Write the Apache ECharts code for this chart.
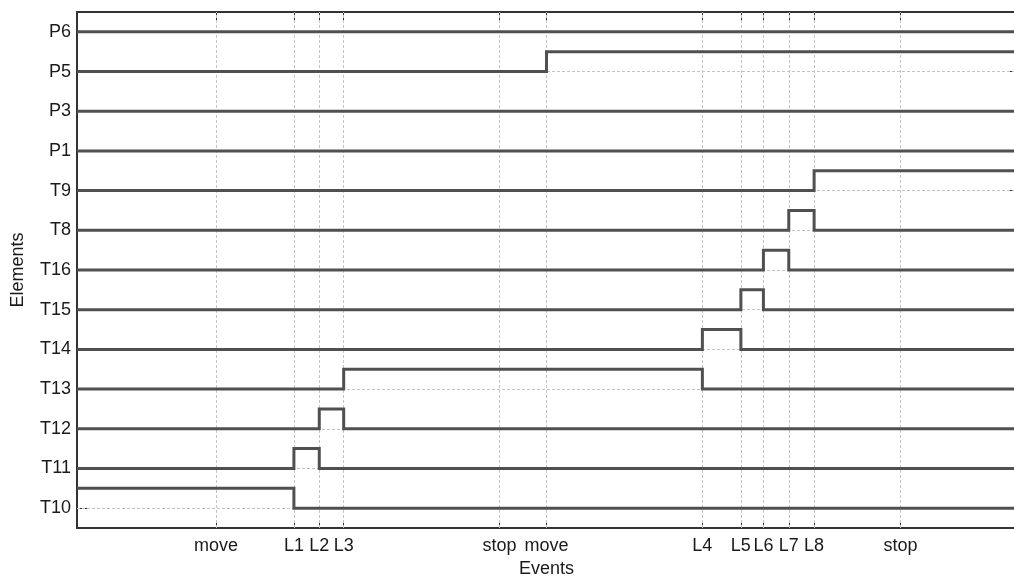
<!DOCTYPE html>
<html>
<head>
<meta charset="utf-8">
<script src="https://cdn.jsdelivr.net/npm/echarts@6/dist/echarts.min.js"></script>
<style>
  html, body { margin: 0; padding: 0; background: #fff; overflow: hidden; }
  #main { width: 1014px; height: 579px; }
</style>
</head>
<body>
<div id="main"></div>
<script>
// signal rows, bottom to top
const elements = ['T10', 'T11', 'T12', 'T13', 'T14', 'T15', 'T16', 'T8', 'T9', 'P1', 'P3', 'P5', 'P6'];
// event markers on the time axis
const eventLabels = ['move', 'L1', 'L2', 'L3', 'stop', 'move', 'L4', 'L5', 'L6', 'L7', 'L8', 'stop'];
const eventTimes = [14.8, 23.1, 25.8, 28.4, 45.0, 50.0, 66.6, 70.7, 73.1, 75.8, 78.5, 87.7];
// when each element is high (null = never)
const highFrom = [0, 23.1, 25.8, 28.4, 66.6, 70.7, 73.1, 75.8, 78.5, null, null, 50.0, null];
const highTo = [23.1, 25.8, 28.4, 66.6, 70.7, 73.1, 75.8, 78.5, 100, null, null, 100, null];

const tMax = 100;
const lineColor = '#505050';
const axisColor = '#333';
const font = '"Liberation Sans", Arial, sans-serif';

function signalPoints(i) {
    const from = highFrom[i], to = highTo[i];
    if (from === null) return [[0, i], [tMax, i]];
    const pts = [];
    if (from > 0) pts.push([0, i], [from, i]);
    pts.push([from, i + 0.5], [to, i + 0.5]);
    if (to < tMax) pts.push([to, i], [tMax, i]);
    return pts;
}

function eventName(v) {
    const idx = eventTimes.findIndex(t => Math.abs(t - v) < 1e-6);
    return idx >= 0 ? eventLabels[idx] : '';
}

const chart = echarts.init(document.getElementById('main'));

const series = elements.map((name, i) => ({
    name: name,
    type: 'line',
    xAxisIndex: 0,
    yAxisIndex: 1,
    data: signalPoints(i),
    showSymbol: false,
    symbol: 'none',
    silent: true,
    z: 3,
    lineStyle: { color: lineColor, width: 3, join: 'miter', cap: 'butt' },
    animation: false
}));

// dotted grid lines
series.push({
    type: 'line',
    xAxisIndex: 0,
    yAxisIndex: 1,
    data: [],
    silent: true,
    markLine: {
        silent: true,
        symbol: 'none',
        z: 1,
        animation: false,
        label: { show: false },
        lineStyle: { color: '#c4c4c4', width: 1, type: [3, 2] },
        data: eventTimes.map(t => ({ xAxis: t }))
            .concat(elements.map((_, i) => ({ yAxis: i })))
    }
});

const axisLine = { show: true, onZero: false, lineStyle: { color: axisColor, width: 2 } };

const option = {
    backgroundColor: '#fff',
    animation: false,
    grid: { left: 77, top: 12, width: 939, height: 516, containLabel: false, outerBoundsMode: 'none' },
    xAxis: [
        {
            type: 'value',
            position: 'bottom',
            min: 0,
            max: tMax,
            name: 'Events',
            nameLocation: 'middle',
            nameGap: 32,
            nameTextStyle: { fontFamily: font, fontSize: 18, color: '#1a1a1a' },
            axisLine: axisLine,
            axisTick: { show: true, inside: true, length: 8, customValues: eventTimes, lineStyle: { color: axisColor, width: 1 } },
            axisLabel: {
                customValues: eventTimes,
                formatter: eventName,
                margin: 9,
                fontFamily: font,
                fontSize: 18,
                color: '#1a1a1a',
                hideOverlap: false
            },
            splitLine: { show: false }
        },
        {
            type: 'value',
            position: 'top',
            min: 0,
            max: tMax,
            axisLine: axisLine,
            axisTick: { show: true, inside: true, length: 8, customValues: eventTimes, lineStyle: { color: axisColor, width: 1 } },
            axisLabel: { show: false },
            splitLine: { show: false }
        }
    ],
    yAxis: [
        {
            type: 'category',
            position: 'left',
            data: elements,
            boundaryGap: true,
            name: 'Elements',
            nameLocation: 'middle',
            nameGap: 50,
            nameRotate: 90,
            nameTextStyle: { fontFamily: font, fontSize: 18, color: '#1a1a1a' },
            axisLine: axisLine,
            axisTick: { show: true, inside: true, length: 10, alignWithLabel: true, lineStyle: { color: axisColor, width: 1 } },
            axisLabel: { margin: 6, fontFamily: font, fontSize: 18, color: '#1a1a1a' },
            splitLine: { show: false }
        },
        {
            type: 'value',
            min: -0.5,
            max: elements.length - 0.5,
            show: false
        },
        {
            type: 'category',
            position: 'right',
            data: elements,
            boundaryGap: true,
            axisLine: { show: false, onZero: false },
            axisTick: { show: true, inside: true, length: 6, alignWithLabel: true, lineStyle: { color: axisColor, width: 1 } },
            axisLabel: { show: false },
            splitLine: { show: false }
        }
    ],
    series: series
};

chart.setOption(option);
</script>
</body>
</html>
